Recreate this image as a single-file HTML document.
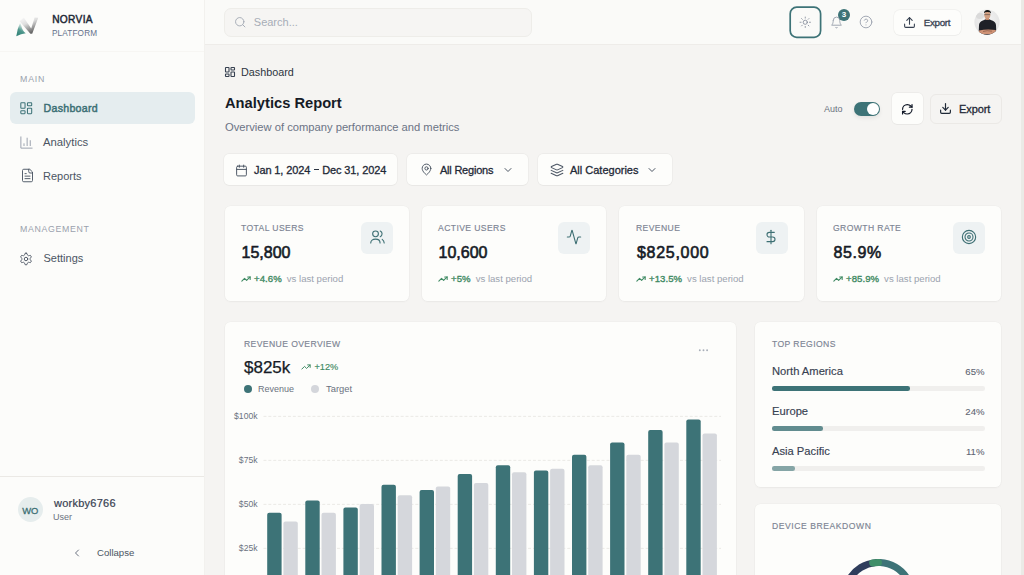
<!DOCTYPE html>
<html><head><meta charset="utf-8">
<style>
*{box-sizing:border-box;margin:0;padding:0}
html,body{width:1024px;height:575px;overflow:hidden}
body{position:relative;background:#f5f4f2;font-family:"Liberation Sans",sans-serif;color:#1f2937}
.a{position:absolute}
svg{display:block}
.ic{fill:none;stroke:currentColor;stroke-linecap:round;stroke-linejoin:round}
.t{position:absolute;white-space:nowrap;line-height:1}
.m{-webkit-text-stroke:0.3px currentColor}
/* sidebar */
#sb{left:0;top:0;width:205px;height:575px;background:#fcfcfa;border-right:1px solid #f2f1ee}
#hd{left:205px;top:0;width:816px;height:44.6px;background:#fafaf8;border-bottom:1px solid #eeece9}
#scr{left:1021px;top:0;width:3px;height:575px;background:#ebeae6}
.card{position:absolute;background:#fdfdfb;border-radius:5.5px;box-shadow:0 1px 2px rgba(0,0,0,0.035),0 0 0 0.6px rgba(0,0,0,0.03)}
.btn{position:absolute;background:#fdfdfb;border-radius:5px;box-shadow:0 0 0 0.7px rgba(0,0,0,0.045),0 1px 1px rgba(0,0,0,0.02)}
.lbl{font-size:8.6px;letter-spacing:0.4px;color:#7c8493;text-transform:uppercase;-webkit-text-stroke:0.15px #7c8493}
</style></head><body>

<!-- SIDEBAR -->
<div id="sb" class="a">
  <div class="a" style="left:0;top:0;width:204px;height:52px;border-bottom:1px solid #f7f6f3"></div>
  <!-- logo -->
  <svg class="a" style="left:12px;top:12px" width="30" height="28" viewBox="12 12 30 28">
    <defs>
      <linearGradient id="lg1" x1="0" y1="1" x2="0.4" y2="0"><stop offset="0" stop-color="#2a7e72"/><stop offset="0.5" stop-color="#4f978c"/><stop offset="1" stop-color="#f8faf9"/></linearGradient>
      <linearGradient id="lg2" x1="0" y1="0" x2="0.5" y2="1"><stop offset="0" stop-color="#fcfcfc"/><stop offset="0.45" stop-color="#dedede"/><stop offset="1" stop-color="#666"/></linearGradient>
    </defs>
    <path d="M16.3 36.2 Q17.2 29 20.2 22.6 L21.2 25.5 Q22.4 31 25.8 33.2 Q21 33.6 16.3 36.2Z" fill="url(#lg1)"/>
    <path d="M19.6 21.2 L23.8 17.6 L31.2 28.6 L34.6 17.4 L38.2 17.8 L32.2 33.8 L30.4 33.8 Z" fill="url(#lg2)"/>
  </svg>
  <div class="t" style="left:52.2px;top:14.8px;font-size:10.2px;color:#1f2937;letter-spacing:0.3px;-webkit-text-stroke:0.45px #1f2937">NORVIA</div>
  <div class="t" style="left:52px;top:30px;font-size:8.2px;color:#64708a;letter-spacing:0.15px">PLATFORM</div>

  <div class="t" style="left:20px;top:75px;font-size:8.8px;color:#9aa1ad;letter-spacing:0.8px">MAIN</div>
  <div class="a" style="left:10px;top:92px;width:185px;height:32.2px;background:#e5edef;border-radius:6px"></div>
  <svg class="a ic" style="left:19px;top:101px;color:#3f7479" width="14.5" height="14.5" viewBox="0 0 24 24" stroke-width="1.75"><rect width="7" height="9" x="3" y="3" rx="1"/><rect width="7" height="5" x="14" y="3" rx="1"/><rect width="7" height="9" x="14" y="12" rx="1"/><rect width="7" height="5" x="3" y="16" rx="1"/></svg>
  <div class="t" style="left:43.5px;top:103.4px;font-size:10.6px;color:#3b6f74;-webkit-text-stroke:0.45px #3b6f74;letter-spacing:0.3px">Dashboard</div>

  <svg class="a ic" style="left:19px;top:134.5px;color:#9ca3af" width="15" height="15" viewBox="0 0 24 24" stroke-width="1.6"><path d="M3 3v18h18"/><path d="M18 17V9"/><path d="M13 17V5"/><path d="M8 17v-3"/></svg>
  <div class="t" style="left:43px;top:137px;font-size:11.3px;color:#4b5563">Analytics</div>

  <svg class="a ic" style="left:19.5px;top:168px;color:#4b5563" width="15" height="15" viewBox="0 0 24 24" stroke-width="1.5"><path d="M15 2H6a2 2 0 0 0-2 2v16a2 2 0 0 0 2 2h12a2 2 0 0 0 2-2V7Z"/><path d="M14 2v4a2 2 0 0 0 2 2h4"/><path d="M10 9H8"/><path d="M16 13H8"/><path d="M16 17H8"/></svg>
  <div class="t" style="left:43px;top:171px;font-size:11px;color:#4b5563">Reports</div>

  <div class="t" style="left:20px;top:225px;font-size:8.8px;color:#9aa1ad;letter-spacing:0.66px">MANAGEMENT</div>
  <svg class="a ic" style="left:19.3px;top:251.6px;color:#4b5563" width="14" height="14" viewBox="0 0 24 24" stroke-width="1.6"><path d="M12.22 2h-.44a2 2 0 0 0-2 2v.18a2 2 0 0 1-1 1.73l-.43.25a2 2 0 0 1-2 0l-.15-.08a2 2 0 0 0-2.73.73l-.22.38a2 2 0 0 0 .73 2.730l.15.1a2 2 0 0 1 1 1.72v.51a2 2 0 0 1-1 1.74l-.15.09a2 2 0 0 0-.73 2.73l.22.38a2 2 0 0 0 2.73.73l.15-.08a2 2 0 0 1 2 0l.43.25a2 2 0 0 1 1 1.73V20a2 2 0 0 0 2 2h.44a2 2 0 0 0 2-2v-.18a2 2 0 0 1 1-1.730l.43-.25a2 2 0 0 1 2 0l.15.08a2 2 0 0 0 2.73-.73l.22-.39a2 2 0 0 0-.73-2.73l-.15-.08a2 2 0 0 1-1-1.74v-.5a2 2 0 0 1 1-1.74l.15-.09a2 2 0 0 0 .73-2.73l-.22-.38a2 2 0 0 0-2.73-.73l-.15.08a2 2 0 0 1-2 0l-.43-.25a2 2 0 0 1-1-1.73V4a2 2 0 0 0-2-2z"/><circle cx="12" cy="12" r="3"/></svg>
  <div class="t" style="left:43.5px;top:252.5px;font-size:11px;color:#4b5563">Settings</div>

  <!-- user -->
  <div class="a" style="left:0;top:476px;width:204px;height:1px;background:#ebe9e5"></div>
  <div class="a" style="left:17.6px;top:497.1px;width:25.2px;height:25.2px;border-radius:50%;background:#e6eded"></div>
  <div class="t" style="left:17.5px;top:505.5px;width:25.5px;text-align:center;font-size:9.4px;color:#3b6f74;-webkit-text-stroke:0.3px #3b6f74">WO</div>
  <div class="t" style="left:54px;top:498px;font-size:11px;color:#374151;letter-spacing:0.25px;-webkit-text-stroke:0.2px #374151">workby6766</div>
  <div class="t" style="left:53px;top:512.5px;font-size:9px;color:#6b7280">User</div>
  <svg class="a ic" style="left:71px;top:547px;color:#6b7280" width="12" height="12" viewBox="0 0 24 24" stroke-width="2"><path d="m15 18-6-6 6-6"/></svg>
  <div class="t" style="left:97px;top:548px;font-size:9.6px;color:#4b5563">Collapse</div>
</div>

<!-- HEADER -->
<div id="hd" class="a"></div>
<div class="a" style="left:224px;top:8px;width:308px;height:29px;background:#f6f5f3;border:1px solid #eeede9;border-radius:7px"></div>
<svg class="a ic" style="left:234px;top:16px;color:#a3a9b4" width="12.5" height="12.5" viewBox="0 0 24 24" stroke-width="1.8"><circle cx="11" cy="11" r="8"/><path d="m21 21-4.3-4.3"/></svg>
<div class="t" style="left:253.8px;top:16.5px;font-size:11px;color:#a7adb7">Search...</div>

<svg class="a" style="left:788px;top:5px" width="35" height="35" viewBox="0 0 35 35"><rect x="2.2" y="2.2" width="30.4" height="30.1" rx="6.5" fill="none" stroke="#3d7377" stroke-width="1.7"/></svg>
<svg class="a ic" style="left:799px;top:16px;color:#7a8291" width="12.5" height="12.5" viewBox="0 0 24 24" stroke-width="1.5"><circle cx="12" cy="12" r="4"/><path d="M12 2v2"/><path d="M12 20v2"/><path d="m4.93 4.93 1.41 1.41"/><path d="m17.66 17.66 1.41 1.41"/><path d="M2 12h2"/><path d="M20 12h2"/><path d="m6.34 17.66-1.41 1.41"/><path d="m19.07 4.93-1.41 1.41"/></svg>
<svg class="a ic" style="left:829.5px;top:15.5px;color:#9ca3af" width="13" height="13" viewBox="0 0 24 24" stroke-width="1.8"><path d="M6 8a6 6 0 0 1 12 0c0 7 3 9 3 9H3s3-2 3-9"/><path d="M10.3 21a1.94 1.94 0 0 0 3.4 0"/></svg>
<div class="a" style="left:838px;top:8.5px;width:12px;height:12px;border-radius:50%;background:#3d7377"></div>
<div class="t" style="left:838px;top:10.6px;width:12px;text-align:center;font-size:8px;font-weight:bold;color:#fff">3</div>
<svg class="a ic" style="left:859px;top:15px;color:#9ca3af" width="14" height="14" viewBox="0 0 24 24" stroke-width="1.6"><circle cx="12" cy="12" r="10"/><path d="M9.09 9a3 3 0 0 1 5.83 1c0 2-3 3-3 3"/><path d="M12 17h.01"/></svg>

<div class="btn" style="left:894px;top:9.8px;width:67.2px;height:25.4px;border-radius:6px"></div>
<svg class="a ic" style="left:903px;top:16px;color:#374151" width="13" height="13" viewBox="0 0 24 24" stroke-width="2"><path d="M21 15v4a2 2 0 0 1-2 2H5a2 2 0 0 1-2-2v-4"/><polyline points="17 8 12 3 7 8"/><line x1="12" x2="12" y1="3" y2="15"/></svg>
<div class="t m" style="left:923.8px;top:17.5px;font-size:9.8px;color:#374151;letter-spacing:-0.35px">Export</div>

<!-- avatar -->
<svg class="a" style="left:970px;top:6px" width="34" height="34" viewBox="0 0 34 34">
  <defs><clipPath id="av"><circle cx="17" cy="16.1" r="12.6"/></clipPath>
  <radialGradient id="avbg" cx="0.5" cy="0.4" r="0.6"><stop offset="0" stop-color="#f4f4f4"/><stop offset="1" stop-color="#dcdcdc"/></radialGradient></defs>
  <g clip-path="url(#av)">
    <rect width="34" height="34" fill="url(#avbg)"/>
    <ellipse cx="10" cy="10" rx="4" ry="3" fill="#d3d3d3" opacity="0.7"/>
    <path d="M8.6 30 L9 19 Q9.5 15.2 13.5 14.2 L15.6 13.2 L19.2 13.2 L21.4 14.2 Q25.5 15.2 26 19 L26.4 30Z" fill="#1e2027"/>
    <rect x="15.6" y="11" width="3.4" height="3" fill="#c08668"/>
    <ellipse cx="17.3" cy="9.2" rx="3" ry="3.6" fill="#d29f82"/>
    <path d="M13.9 7.2 Q14 4 17.4 3.9 Q21 4 21 7.4 Q19.6 5.9 17.4 6 Q15.2 5.9 13.9 7.2Z" fill="#151515"/>
    <path d="M14.3 8.6 H20.3" stroke="#3a3a3a" stroke-width="0.5"/>
    <path d="M9 24.4 Q17 22.6 25.8 24 L25.9 27.2 Q17 29.2 9.1 27.6Z" fill="#cf9275"/>
    <path d="M13 25.5 Q17 24 22 25.2" stroke="#7a4f3c" stroke-width="0.6" fill="none"/>
  </g>
</svg>
<div id="scr" class="a"></div>

<!-- PAGE HEAD -->
<svg class="a ic" style="left:224px;top:66px;color:#374151" width="12" height="12" viewBox="0 0 24 24" stroke-width="2.2"><rect width="7" height="9" x="3" y="3" rx="1"/><rect width="7" height="5" x="14" y="3" rx="1"/><rect width="7" height="9" x="14" y="12" rx="1"/><rect width="7" height="5" x="3" y="16" rx="1"/></svg>
<div class="t" style="left:241px;top:67px;font-size:10.8px;color:#2d3440">Dashboard</div>
<div class="t" style="left:225px;top:96px;font-size:14.7px;font-weight:bold;color:#161b26">Analytics Report</div>
<div class="t" style="left:225px;top:121.5px;font-size:11.2px;color:#6b7385">Overview of company performance and metrics</div>

<div class="t" style="left:824px;top:104.5px;font-size:9px;color:#6b7280">Auto</div>
<div class="a" style="left:853.7px;top:101.8px;width:26.8px;height:14.4px;border-radius:7.2px;background:#3d7377;box-shadow:0 2px 4px rgba(0,0,0,0.08)"></div>
<div class="a" style="left:866.6px;top:102.8px;width:12.5px;height:12.5px;border-radius:50%;background:#fff"></div>
<div class="btn" style="left:892px;top:93px;width:31px;height:31px"></div>
<svg class="a ic" style="left:900.8px;top:102.6px;color:#111827" width="12.6" height="12.6" viewBox="0 0 24 24" stroke-width="2.3"><path d="M3 12a9 9 0 0 1 9-9 9.750 9.75 0 0 1 6.74 2.74L21 8"/><path d="M21 3v5h-5"/><path d="M21 12a9 9 0 0 1-9 9 9.75 9.75 0 0 1-6.74-2.74L3 16"/><path d="M8 16H3v5"/></svg>
<div class="a" style="left:929.5px;top:94px;width:72px;height:29.5px;border-radius:6px;border:1px solid #ebe9e6;background:#f5f4f2"></div>
<svg class="a ic" style="left:939px;top:102px;color:#1f2937" width="13" height="13" viewBox="0 0 24 24" stroke-width="2.2"><path d="M21 15v4a2 2 0 0 1-2 2H5a2 2 0 0 1-2-2v-4"/><polyline points="7 10 12 15 17 10"/><line x1="12" x2="12" y1="15" y2="3"/></svg>
<div class="t m" style="left:959px;top:104.2px;font-size:11px;color:#1f2937;letter-spacing:-0.1px">Export</div>

<!-- FILTERS -->
<div class="btn" style="left:224px;top:154px;width:173px;height:31px"></div>
<svg class="a ic" style="left:234.5px;top:164px;color:#4b5563" width="13" height="13" viewBox="0 0 24 24" stroke-width="1.8"><rect width="18" height="18" x="3" y="4" rx="2" ry="2"/><line x1="16" x2="16" y1="2" y2="6"/><line x1="8" x2="8" y1="2" y2="6"/><line x1="3" x2="21" y1="10" y2="10"/></svg>
<div class="t m" style="left:254px;top:164.9px;font-size:11px;color:#1f2937;letter-spacing:-0.12px">Jan 1, 2024 <span style="display:inline-block;width:5px;height:1px;background:#2b3340;vertical-align:3.5px;margin:0 0.6px"></span> Dec 31, 2024</div>

<div class="btn" style="left:407px;top:154px;width:121px;height:31px"></div>
<svg class="a ic" style="left:420px;top:163px;color:#4b5563" width="13" height="13" viewBox="0 0 24 24" stroke-width="1.8"><path d="M20 10c0 6-8 12-8 12s-8-6-8-12a8 8 0 0 1 16 0Z"/><circle cx="12" cy="10" r="3"/></svg>
<div class="t m" style="left:440px;top:164.9px;font-size:11px;color:#1f2937;letter-spacing:-0.22px">All Regions</div>
<svg class="a ic" style="left:502px;top:164px;color:#4b5563" width="12" height="12" viewBox="0 0 24 24" stroke-width="2"><path d="m6 9 6 6 6-6"/></svg>

<div class="btn" style="left:538px;top:154px;width:134px;height:31px"></div>
<svg class="a ic" style="left:550px;top:163px;color:#4b5563" width="14" height="14" viewBox="0 0 24 24" stroke-width="1.8"><path d="m12.83 2.18a2 2 0 0 0-1.66 0L2.6 6.08a1 1 0 0 0 0 1.83l8.58 3.91a2 2 0 0 0 1.66 0l8.58-3.9a1 1 0 0 0 0-1.83Z"/><path d="m22 17.65-9.17 4.16a2 2 0 0 1-1.66 0L2 17.65"/><path d="m22 12.65-9.17 4.16a2 2 0 0 1-1.66 0L2 12.65"/></svg>
<div class="t m" style="left:570px;top:164.9px;font-size:11px;color:#1f2937;letter-spacing:0px">All Categories</div>
<svg class="a ic" style="left:646px;top:164px;color:#4b5563" width="12" height="12" viewBox="0 0 24 24" stroke-width="2"><path d="m6 9 6 6 6-6"/></svg>

<!-- STAT CARDS -->
<div class="card" style="left:224.80px;top:205.9px;width:184.3px;height:95.6px"></div>
<div class="t lbl" style="left:241px;top:224px">Total Users</div>
<div class="t" style="left:241.5px;top:244.6px;font-size:16px;color:#161b26;-webkit-text-stroke:0.6px #161b26;letter-spacing:0px">15,800</div>
<div class="a" style="left:361.10px;top:221.9px;width:32px;height:32px;border-radius:6px;background:#eef2f3"></div>
<svg class="a ic" style="left:368.65px;top:229.2px;color:#3d6f73" width="16" height="16" viewBox="0 0 24 24" stroke-width="1.65"><circle cx="9.8" cy="7.3" r="4.3"/><path d="M2.6 21C2.6 17 5.6 15.2 9.7 15.2C13.8 15.2 16.6 17 16.6 21"/><path d="M16.9 3.1A4.6 4.6 0 0 1 16.9 11.5"/><path d="M19.8 15.5Q22.6 17.5 22.8 21"/></svg>
<svg class="a ic" style="left:241px;top:274px;color:#3f8a63" width="10" height="10" viewBox="0 0 24 24" stroke-width="2.6"><polyline points="22 7 13.5 15.5 8.5 10.5 2 17"/><polyline points="16 7 22 7 22 13"/></svg>
<div class="t" style="left:254px;top:274px;font-size:9.6px;color:#9ca3af"><b style="font-weight:normal;color:#3f8a63;-webkit-text-stroke:0.35px #3f8a63;letter-spacing:0.05px;margin-right:5px">+4.6%</b>vs last period</div>

<div class="card" style="left:422.10px;top:205.9px;width:184.3px;height:95.6px"></div>
<div class="t lbl" style="left:438px;top:224px">Active Users</div>
<div class="t" style="left:438.5px;top:244.6px;font-size:16px;color:#161b26;-webkit-text-stroke:0.6px #161b26;letter-spacing:0px">10,600</div>
<div class="a" style="left:558.40px;top:221.9px;width:32px;height:32px;border-radius:6px;background:#eef2f3"></div>
<svg class="a ic" style="left:565.65px;top:229.2px;color:#3d6f73" width="16" height="16" viewBox="0 0 24 24" stroke-width="1.65"><path d="M22 12h-2.48a2 2 0 0 0-1.93 1.46l-2.35 8.36a.25.25 0 0 1-.48 0L9.24 2.18a.25.25 0 0 0-.48 0l-2.35 8.36A2 2 0 0 1 4.49 12H2"/></svg>
<svg class="a ic" style="left:438px;top:274px;color:#3f8a63" width="10" height="10" viewBox="0 0 24 24" stroke-width="2.6"><polyline points="22 7 13.5 15.5 8.5 10.5 2 17"/><polyline points="16 7 22 7 22 13"/></svg>
<div class="t" style="left:451px;top:274px;font-size:9.6px;color:#9ca3af"><b style="font-weight:normal;color:#3f8a63;-webkit-text-stroke:0.35px #3f8a63;letter-spacing:0.05px;margin-right:5px">+5%</b>vs last period</div>

<div class="card" style="left:619.40px;top:205.9px;width:184.3px;height:95.6px"></div>
<div class="t lbl" style="left:636px;top:224px">Revenue</div>
<div class="t" style="left:637px;top:244.6px;font-size:16px;color:#161b26;-webkit-text-stroke:0.6px #161b26;letter-spacing:0.7px">$825,000</div>
<div class="a" style="left:755.70px;top:221.9px;width:32px;height:32px;border-radius:6px;background:#eef2f3"></div>
<svg class="a ic" style="left:762.65px;top:229.2px;color:#3d6f73" width="16" height="16" viewBox="0 0 24 24" stroke-width="1.65"><line x1="12" x2="12" y1="2" y2="22"/><path d="M17 5H9.5a3.5 3.5 0 0 0 0 7h5a3.5 3.5 0 0 1 0 7H6"/></svg>
<svg class="a ic" style="left:636px;top:274px;color:#3f8a63" width="10" height="10" viewBox="0 0 24 24" stroke-width="2.6"><polyline points="22 7 13.5 15.5 8.5 10.5 2 17"/><polyline points="16 7 22 7 22 13"/></svg>
<div class="t" style="left:649px;top:274px;font-size:9.6px;color:#9ca3af"><b style="font-weight:normal;color:#3f8a63;-webkit-text-stroke:0.35px #3f8a63;letter-spacing:0.05px;margin-right:5px">+13.5%</b>vs last period</div>

<div class="card" style="left:816.70px;top:205.9px;width:184.3px;height:95.6px"></div>
<div class="t lbl" style="left:833px;top:224px">Growth Rate</div>
<div class="t" style="left:833.5px;top:244.6px;font-size:16px;color:#161b26;-webkit-text-stroke:0.6px #161b26;letter-spacing:0.6px">85.9%</div>
<div class="a" style="left:953.00px;top:221.9px;width:32px;height:32px;border-radius:6px;background:#eef2f3"></div>
<svg class="a ic" style="left:960.65px;top:229.2px;color:#3d6f73" width="16" height="16" viewBox="0 0 24 24" stroke-width="1.65"><circle cx="12" cy="12" r="10"/><circle cx="12" cy="12" r="6"/><circle cx="12" cy="12" r="2"/></svg>
<svg class="a ic" style="left:833px;top:274px;color:#3f8a63" width="10" height="10" viewBox="0 0 24 24" stroke-width="2.6"><polyline points="22 7 13.5 15.5 8.5 10.5 2 17"/><polyline points="16 7 22 7 22 13"/></svg>
<div class="t" style="left:846px;top:274px;font-size:9.6px;color:#9ca3af"><b style="font-weight:normal;color:#3f8a63;-webkit-text-stroke:0.35px #3f8a63;letter-spacing:0.05px;margin-right:5px">+85.9%</b>vs last period</div>


<!-- CHART CARD -->
<div class="card" style="left:224.8px;top:321.7px;width:511.5px;height:300px"></div>
<div class="t lbl" style="left:244px;top:340px">Revenue Overview</div>
<div class="t" style="left:244px;top:359px;font-size:17px;color:#161b26;-webkit-text-stroke:0.25px #161b26">$825k</div>
<svg class="a ic" style="left:301px;top:362px;color:#3f8a63" width="10" height="10" viewBox="0 0 24 24" stroke-width="2.4"><polyline points="22 7 13.5 15.5 8.5 10.5 2 17"/><polyline points="16 7 22 7 22 13"/></svg>
<div class="t m" style="left:314.5px;top:362.5px;font-size:9.2px;color:#3f8a63;-webkit-text-stroke:0.15px #3f8a63">+12%</div>
<div class="a" style="left:244px;top:385px;width:8px;height:8px;border-radius:50%;background:#3d7377"></div>
<div class="t" style="left:258px;top:385px;font-size:9px;color:#6b7280">Revenue</div>
<div class="a" style="left:311px;top:385px;width:8px;height:8px;border-radius:50%;background:#d4d6db"></div>
<div class="t" style="left:326px;top:384px;font-size:9.4px;color:#6b7280">Target</div>
<svg class="a" style="left:697px;top:347px" width="14" height="6" viewBox="0 0 14 6"><circle cx="2.8" cy="3.3" r="0.95" fill="#a9afb9"/><circle cx="6.5" cy="3.3" r="0.95" fill="#a9afb9"/><circle cx="10.1" cy="3.3" r="0.95" fill="#a9afb9"/></svg>
<svg class="a" style="left:225px;top:400px" width="511" height="175" viewBox="225 400 511 175">
<line x1="263.5" x2="721" y1="416.4" y2="416.4" stroke="#e8e6e3" stroke-width="0.9" stroke-dasharray="2.9 2"/>
<text x="257.5" y="419" text-anchor="end" font-family="Liberation Sans" font-size="8.6" fill="#6b7280">$100k</text>
<line x1="263.5" x2="721" y1="460.4" y2="460.4" stroke="#e8e6e3" stroke-width="0.9" stroke-dasharray="2.9 2"/>
<text x="257.5" y="463" text-anchor="end" font-family="Liberation Sans" font-size="8.6" fill="#6b7280">$75k</text>
<line x1="263.5" x2="721" y1="504.4" y2="504.4" stroke="#e8e6e3" stroke-width="0.9" stroke-dasharray="2.9 2"/>
<text x="257.5" y="507" text-anchor="end" font-family="Liberation Sans" font-size="8.6" fill="#6b7280">$50k</text>
<line x1="263.5" x2="721" y1="548.4" y2="548.4" stroke="#e8e6e3" stroke-width="0.9" stroke-dasharray="2.9 2"/>
<text x="257.5" y="551" text-anchor="end" font-family="Liberation Sans" font-size="8.6" fill="#6b7280">$25k</text>
<path d="M267.20 600 V514.80 a2 2 0 0 1 2 -2 h10.40 a2 2 0 0 1 2 2 V600Z" fill="#3d7377"/>
<path d="M283.40 600 V523.60 a2 2 0 0 1 2 -2 h10.40 a2 2 0 0 1 2 2 V600Z" fill="#d5d7dc"/>
<path d="M305.30 600 V502.48 a2 2 0 0 1 2 -2 h10.40 a2 2 0 0 1 2 2 V600Z" fill="#3d7377"/>
<path d="M321.50 600 V514.80 a2 2 0 0 1 2 -2 h10.40 a2 2 0 0 1 2 2 V600Z" fill="#d5d7dc"/>
<path d="M343.40 600 V509.52 a2 2 0 0 1 2 -2 h10.40 a2 2 0 0 1 2 2 V600Z" fill="#3d7377"/>
<path d="M359.60 600 V506.00 a2 2 0 0 1 2 -2 h10.40 a2 2 0 0 1 2 2 V600Z" fill="#d5d7dc"/>
<path d="M381.50 600 V486.64 a2 2 0 0 1 2 -2 h10.40 a2 2 0 0 1 2 2 V600Z" fill="#3d7377"/>
<path d="M397.70 600 V497.20 a2 2 0 0 1 2 -2 h10.40 a2 2 0 0 1 2 2 V600Z" fill="#d5d7dc"/>
<path d="M419.60 600 V491.92 a2 2 0 0 1 2 -2 h10.40 a2 2 0 0 1 2 2 V600Z" fill="#3d7377"/>
<path d="M435.80 600 V488.40 a2 2 0 0 1 2 -2 h10.40 a2 2 0 0 1 2 2 V600Z" fill="#d5d7dc"/>
<path d="M457.70 600 V476.08 a2 2 0 0 1 2 -2 h10.40 a2 2 0 0 1 2 2 V600Z" fill="#3d7377"/>
<path d="M473.90 600 V484.88 a2 2 0 0 1 2 -2 h10.40 a2 2 0 0 1 2 2 V600Z" fill="#d5d7dc"/>
<path d="M495.80 600 V467.28 a2 2 0 0 1 2 -2 h10.40 a2 2 0 0 1 2 2 V600Z" fill="#3d7377"/>
<path d="M512.00 600 V474.32 a2 2 0 0 1 2 -2 h10.40 a2 2 0 0 1 2 2 V600Z" fill="#d5d7dc"/>
<path d="M533.90 600 V472.56 a2 2 0 0 1 2 -2 h10.40 a2 2 0 0 1 2 2 V600Z" fill="#3d7377"/>
<path d="M550.10 600 V470.80 a2 2 0 0 1 2 -2 h10.40 a2 2 0 0 1 2 2 V600Z" fill="#d5d7dc"/>
<path d="M572.00 600 V456.72 a2 2 0 0 1 2 -2 h10.40 a2 2 0 0 1 2 2 V600Z" fill="#3d7377"/>
<path d="M588.20 600 V467.28 a2 2 0 0 1 2 -2 h10.40 a2 2 0 0 1 2 2 V600Z" fill="#d5d7dc"/>
<path d="M610.10 600 V444.40 a2 2 0 0 1 2 -2 h10.40 a2 2 0 0 1 2 2 V600Z" fill="#3d7377"/>
<path d="M626.30 600 V456.72 a2 2 0 0 1 2 -2 h10.40 a2 2 0 0 1 2 2 V600Z" fill="#d5d7dc"/>
<path d="M648.20 600 V432.08 a2 2 0 0 1 2 -2 h10.40 a2 2 0 0 1 2 2 V600Z" fill="#3d7377"/>
<path d="M664.40 600 V444.40 a2 2 0 0 1 2 -2 h10.40 a2 2 0 0 1 2 2 V600Z" fill="#d5d7dc"/>
<path d="M686.30 600 V421.52 a2 2 0 0 1 2 -2 h10.40 a2 2 0 0 1 2 2 V600Z" fill="#3d7377"/>
<path d="M702.50 600 V435.60 a2 2 0 0 1 2 -2 h10.40 a2 2 0 0 1 2 2 V600Z" fill="#d5d7dc"/>
</svg>

<!-- RIGHT CARDS -->
<div class="card" style="left:755.2px;top:321.7px;width:245.8px;height:165.5px"></div>
<div class="t lbl" style="left:772px;top:340px">Top Regions</div>
<div class="t" style="left:772px;top:366px;font-size:11.2px;color:#374151;-webkit-text-stroke:0.15px #374151">North America</div>
<div class="t m" style="left:904px;width:80.5px;text-align:right;top:366.5px;font-size:9.6px;color:#5f6673;-webkit-text-stroke:0.1px #5f6673">65%</div>
<div class="a" style="left:772px;top:386px;width:213px;height:4.5px;border-radius:2.25px;background:#f0efed"></div>
<div class="a" style="left:772px;top:386px;width:138.4px;height:4.5px;border-radius:2.25px;background:#3d7377;opacity:1"></div>
<div class="t" style="left:772px;top:406px;font-size:11.2px;color:#374151;-webkit-text-stroke:0.15px #374151">Europe</div>
<div class="t m" style="left:904px;width:80.5px;text-align:right;top:406.5px;font-size:9.6px;color:#5f6673;-webkit-text-stroke:0.1px #5f6673">24%</div>
<div class="a" style="left:772px;top:426px;width:213px;height:4.5px;border-radius:2.25px;background:#f0efed"></div>
<div class="a" style="left:772px;top:426px;width:51.1px;height:4.5px;border-radius:2.25px;background:#3d7377;opacity:0.8"></div>
<div class="t" style="left:772px;top:446px;font-size:11.2px;color:#374151;-webkit-text-stroke:0.15px #374151">Asia Pacific</div>
<div class="t m" style="left:904px;width:80.5px;text-align:right;top:446.5px;font-size:9.6px;color:#5f6673;-webkit-text-stroke:0.1px #5f6673">11%</div>
<div class="a" style="left:772px;top:466px;width:213px;height:4.5px;border-radius:2.25px;background:#f0efed"></div>
<div class="a" style="left:772px;top:466px;width:23.4px;height:4.5px;border-radius:2.25px;background:#3d7377;opacity:0.6"></div>
<div class="card" style="left:755.2px;top:503.7px;width:245.8px;height:120px"></div>
<div class="t lbl" style="left:772px;top:522px;letter-spacing:0.55px">Device Breakdown</div>
<svg class="a" style="left:756px;top:540px" width="245" height="35" viewBox="756 540 245 35"><path d="M849.49 612.75 A33.5 33.5 0 0 1 875.58 562.63" stroke="#2f3d5c" stroke-width="7" fill="none" stroke-linecap="round"/><path d="M880.25 562.55 A33.5 33.5 0 0 1 907.51 612.75" stroke="#3d7377" stroke-width="7" fill="none" stroke-linecap="round"/><path d="M872.68 563.01 A33.5 33.5 0 0 1 878.50 562.50" stroke="#3f8f68" stroke-width="7" fill="none" stroke-linecap="round"/></svg>

</body></html>
